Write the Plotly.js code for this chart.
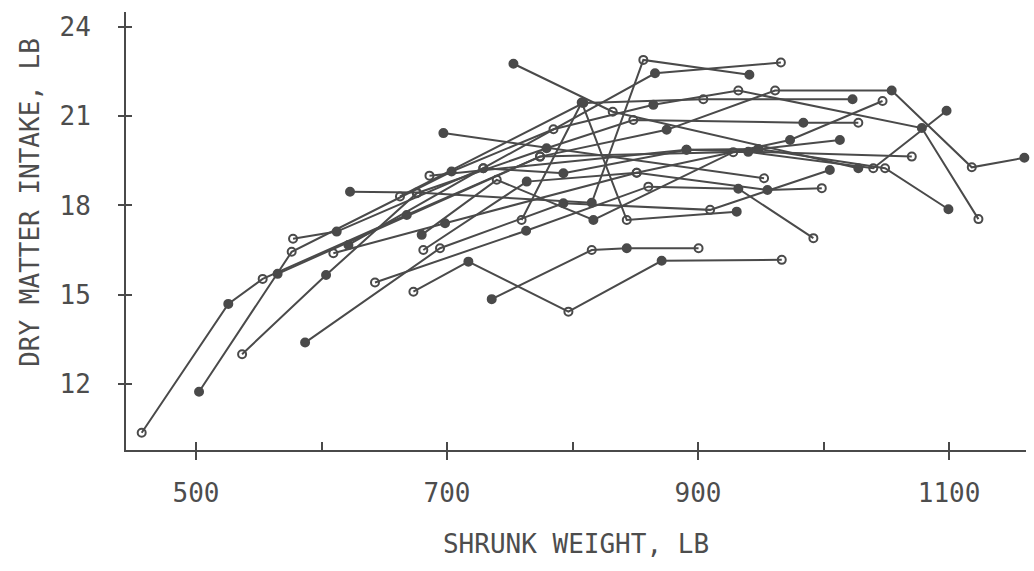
<!DOCTYPE html>
<html><head><meta charset="utf-8">
<script src="https://cdn.plot.ly/plotly-3.0.1.min.js"></script>
<style>html,body{margin:0;padding:0;background:#fff}</style>
</head><body><div id="chart" style="width:1034px;height:571px"></div>
<script>
// Each animal: shrunk weight (lb) and dry matter intake (lb) per period
const w1=[456.7,525.7,553.1,667.9,774.1,875.0,961.4,1054.3,1118.1,1160], d1=[10.36,14.69,15.53,17.68,19.64,20.54,21.86,21.86,19.28,19.6];
const w2=[502.4,576.2,703.6,784.8,864.4,932.1,1078.3,1123.4], d2=[11.74,16.44,19.14,20.56,21.38,21.86,20.6,17.54];
const w3=[536.7,603.6,675.9,779.3,848.4,983.9,1027.7], d3=[13.0,15.66,18.41,19.92,20.87,20.78,20.78];
const w4=[586.9,694.4,792.7,909.6,1005], d4=[13.39,16.56,18.07,17.85,19.19];
const w5=[642.6,763.0,860.4,932.1,991.9], d5=[15.41,17.15,18.63,18.56,16.9];
const w6=[622.7,675.9,815.3,856.4,940.9], d6=[18.46,18.43,18.09,22.89,22.39];
const w7=[577.3,612.1,728.9,792.7,890.8,948.0,1049.0,1099.5], d7=[16.88,17.12,19.25,19.08,19.87,19.9,19.25,17.87];
const w8=[697.1,952.6], d8=[20.43,18.91];
const w9=[673.2,717.0,796.7,871.0,966.7], d9=[15.1,16.11,14.43,16.14,16.17];
const w10=[735.6,815.3,843.2,900.4], d10=[14.85,16.5,16.56,16.56];
const w11=[681.1,763.5,851.1,955.3,998.6], d11=[16.5,18.8,19.1,18.52,18.58];
const w12=[752.9,832.0,1027.7], d12=[22.76,21.15,19.25];
const w13=[759.4,807.3,843.2,930.8], d13=[17.51,21.46,17.51,17.79];
const w14=[679.8,739.6,816.6,928.0,1013.0], d14=[17.01,18.86,17.51,19.79,20.2];
const w15=[609.4,698.4,851.1,973.3,1047.0], d15=[16.39,17.4,19.1,20.2,21.51];
const w16=[621.4,728.9,865.7,966.0], d16=[16.67,19.25,22.44,22.8];
const w17=[662.5,808.6,904.2,1023.1], d17=[18.3,21.44,21.57,21.57];
const w18=[565.0,774.1,940.0,1039.6,1098.0], d18=[15.7,19.64,19.8,19.25,21.18];
const w19=[686.0,890.8,1070.3], d19=[19.0,19.87,19.64];

const weights=[w1,w2,w3,w4,w5,w6,w7,w8,w9,w10,w11,w12,w13,w14,w15,w16,w17,w18,w19];
const intakes=[d1,d2,d3,d4,d5,d6,d7,d8,d9,d10,d11,d12,d13,d14,d15,d16,d17,d18,d19];

const xTicks=[500,700,900,1100];
const yTicks=[12,15,18,21,24];

const ink='#4a4a4a';
const traces=weights.map((w,i)=>({
  x:w, y:intakes[i], type:'scatter', mode:'lines+markers', cliponaxis:false,
  line:{color:ink,width:2},
  marker:{symbol:w.map((_,j)=>((i+j)%2?'circle':'circle-open')),size:8,color:ink,line:{color:ink,width:2}},
  hoverinfo:'x+y', showlegend:false
}));
// carrier for the minor (inside) tick axes
traces.push({x:[500],y:[12],xaxis:'x2',yaxis:'y2',mode:'markers',marker:{opacity:0},showlegend:false,hoverinfo:'skip'});

const fnt={family:'DejaVu Sans Mono, monospace',size:26,color:'#4d4d4d'};
const xr=[444.2,1161.3];
const layout={
  width:1034,height:571,
  margin:{l:126,r:8,t:12,b:121},
  paper_bgcolor:'#fff',plot_bgcolor:'#fff',
  xaxis:{range:xr,tickvals:xTicks,ticks:'outside',ticklen:8,tickwidth:2,tickcolor:ink,
    showline:true,linecolor:ink,linewidth:2,showgrid:false,zeroline:false,
    tickfont:fnt,ticklabelstandoff:11,
    title:{text:'SHRUNK WEIGHT, LB',font:fnt,standoff:28}},
  yaxis:{range:[9.78,24.5],tickvals:yTicks,ticks:'outside',ticklen:6,tickwidth:2,tickcolor:ink,
    showline:true,linecolor:ink,linewidth:2,showgrid:false,zeroline:false,
    tickfont:fnt,ticklabelstandoff:22},
  xaxis2:{overlaying:'x',range:xr,tick0:500,dtick:100,ticks:'inside',ticklen:8,tickwidth:2,tickcolor:ink,
    showticklabels:false,showline:false,showgrid:false,zeroline:false},
  yaxis2:{overlaying:'y',range:[9.78,24.5],tickvals:yTicks,ticks:'inside',ticklen:6,tickwidth:2,tickcolor:ink,
    showticklabels:false,showline:false,showgrid:false,zeroline:false},
  annotations:[{text:'DRY MATTER INTAKE, LB',textangle:-90,xref:'paper',yref:'paper',
    x:-0.107,y:0.566,xanchor:'center',yanchor:'middle',showarrow:false,font:fnt}]
};
Plotly.newPlot('chart',traces,layout,{staticPlot:true});
</script></body></html>
